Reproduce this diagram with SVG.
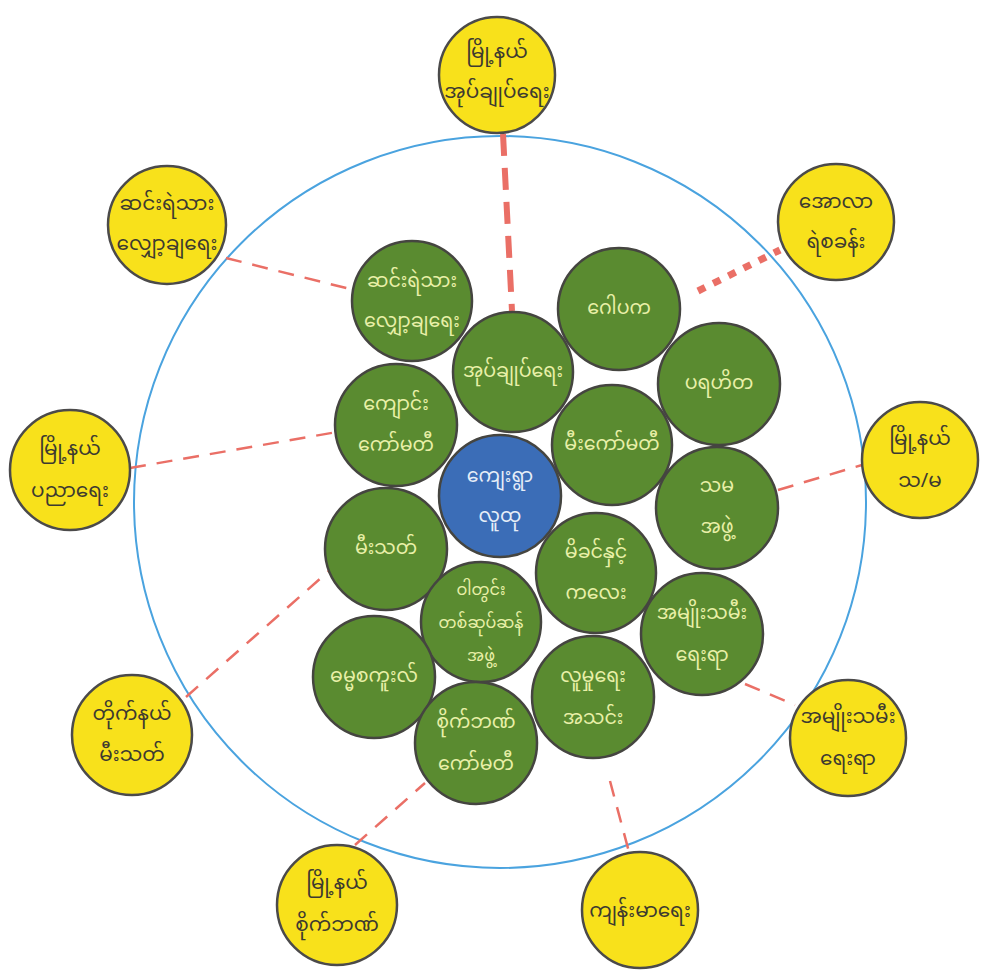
<svg xmlns="http://www.w3.org/2000/svg" width="982" height="974" viewBox="0 0 982 974">
<style>
text{font-family:"Noto Sans Myanmar","Noto Sans Myanmar UI","Padauk","Myanmar Text","Noto Sans",sans-serif;text-anchor:middle;dominant-baseline:central}
.y circle{fill:#f8e11b;stroke:#4b4a4a;stroke-width:2.5}
.y text{fill:#3d3a30;font-size:20px}
.g circle{fill:#5a8b30;stroke:#454540;stroke-width:2.5}
.g text{fill:#e9f0a8;font-size:19px}
.g text.s{font-size:16px}
.b circle{fill:#3b6db7;stroke:#454540;stroke-width:2.5}
.b text{fill:#e6eef8;font-size:19px}
.thin{stroke:#ea6f66;stroke-width:2.5;stroke-dasharray:16 11;fill:none}
.thick{stroke:#ea6f66;stroke-width:6;stroke-dasharray:22 12;fill:none}
.dot{stroke:#ea6f66;stroke-width:7;stroke-dasharray:8 9;fill:none}
</style>
<rect width="982" height="974" fill="#ffffff"/>
<circle id="boundary" cx="500" cy="502" r="366" fill="none" stroke="#4aa3df" stroke-width="2"/>
<g id="connectors">
<line class="thick" x1="503" y1="134" x2="512" y2="311"/>
<line class="dot" x1="698" y1="291" x2="780" y2="250"/>
<line class="thin" x1="226" y1="258" x2="354" y2="290"/>
<line class="thin" x1="130" y1="468" x2="337" y2="432"/>
<line class="thin" x1="778" y1="490" x2="862" y2="465"/>
<line class="thin" x1="186" y1="697" x2="330" y2="570"/>
<line class="thin" x1="355" y1="845" x2="425" y2="783"/>
<line class="thin" x1="610" y1="781" x2="629" y2="852"/>
<line class="thin" x1="745" y1="684" x2="795" y2="705"/>
</g>
<g id="y-top" class="y"><circle cx="497" cy="75" r="58"/><text x="497" y="53">မြို့နယ်</text><text x="497" y="93">အုပ်ချုပ်ရေး</text></g>
<g id="y-topleft" class="y"><circle cx="167" cy="225" r="59"/><text x="167" y="205">ဆင်းရဲသား</text><text x="167" y="245">လျှော့ချရေး</text></g>
<g id="y-topright" class="y"><circle cx="836" cy="222" r="58"/><text x="836" y="203">အောလာ</text><text x="836" y="243">ရဲစခန်း</text></g>
<g id="y-left" class="y"><circle cx="70" cy="470" r="60"/><text x="70" y="450">မြို့နယ်</text><text x="70" y="492">ပညာရေး</text></g>
<g id="y-right" class="y"><circle cx="920" cy="460" r="58"/><text x="920" y="440">မြို့နယ်</text><text x="920" y="482">သ/မ</text></g>
<g id="y-bottomleft" class="y"><circle cx="132" cy="735" r="60"/><text x="132" y="715">တိုက်နယ်</text><text x="132" y="756">မီးသတ်</text></g>
<g id="y-bottom" class="y"><circle cx="337" cy="905" r="60"/><text x="337" y="884">မြို့နယ်</text><text x="337" y="926">စိုက်ဘဏ်</text></g>
<g id="y-bottomright" class="y"><circle cx="640" cy="910" r="58"/><text x="640" y="912">ကျန်းမာရေး</text></g>
<g id="y-rightbottom" class="y"><circle cx="848" cy="738" r="58"/><text x="848" y="718">အမျိုးသမီး</text><text x="848" y="760">ရေးရာ</text></g>
<g id="g-poverty" class="g"><circle cx="412" cy="301" r="60"/><text x="412" y="282">ဆင်းရဲသား</text><text x="412" y="322">လျှော့ချရေး</text></g>
<g id="g-admin" class="g"><circle cx="513" cy="372" r="60"/><text x="513" y="372">အုပ်ချုပ်ရေး</text></g>
<g id="g-gopaka" class="g"><circle cx="619" cy="309" r="61"/><text x="619" y="309">ဂေါပက</text></g>
<g id="g-charity" class="g"><circle cx="719" cy="384" r="61"/><text x="719" y="384">ပရဟိတ</text></g>
<g id="g-school" class="g"><circle cx="396" cy="425" r="61"/><text x="396" y="405">ကျောင်း</text><text x="396" y="446">ကော်မတီ</text></g>
<g id="g-firecomm" class="g"><circle cx="612" cy="445" r="60"/><text x="612" y="445">မီးကော်မတီ</text></g>
<g id="center" class="b"><circle cx="500" cy="496" r="61"/><text x="500" y="477">ကျေးရွာ</text><text x="500" y="517">လူထု</text></g>
<g id="g-coop" class="g"><circle cx="717" cy="508" r="61"/><text x="717" y="487">သမ</text><text x="717" y="528">အဖွဲ့</text></g>
<g id="g-fire" class="g"><circle cx="386" cy="549" r="61"/><text x="386" y="549">မီးသတ်</text></g>
<g id="g-mother" class="g"><circle cx="596" cy="573" r="60"/><text x="596" y="553">မိခင်နှင့်</text><text x="596" y="594">ကလေး</text></g>
<g id="g-rice" class="g"><circle cx="481" cy="622" r="60"/><text class="s" x="481" y="591">ဝါတွင်း</text><text class="s" x="481" y="624">တစ်ဆုပ်ဆန်</text><text class="s" x="481" y="657">အဖွဲ့</text></g>
<g id="g-women" class="g"><circle cx="702" cy="634" r="61"/><text x="702" y="614">အမျိုးသမီး</text><text x="702" y="656">ရေးရာ</text></g>
<g id="g-dhamma" class="g"><circle cx="374" cy="677" r="61"/><text x="374" y="677">ဓမ္မစကူးလ်</text></g>
<g id="g-social" class="g"><circle cx="593" cy="697" r="61"/><text x="593" y="677">လူမှုရေး</text><text x="593" y="719">အသင်း</text></g>
<g id="g-agribank" class="g"><circle cx="476" cy="743" r="61"/><text x="476" y="723">စိုက်ဘဏ်</text><text x="476" y="765">ကော်မတီ</text></g>
</svg>
